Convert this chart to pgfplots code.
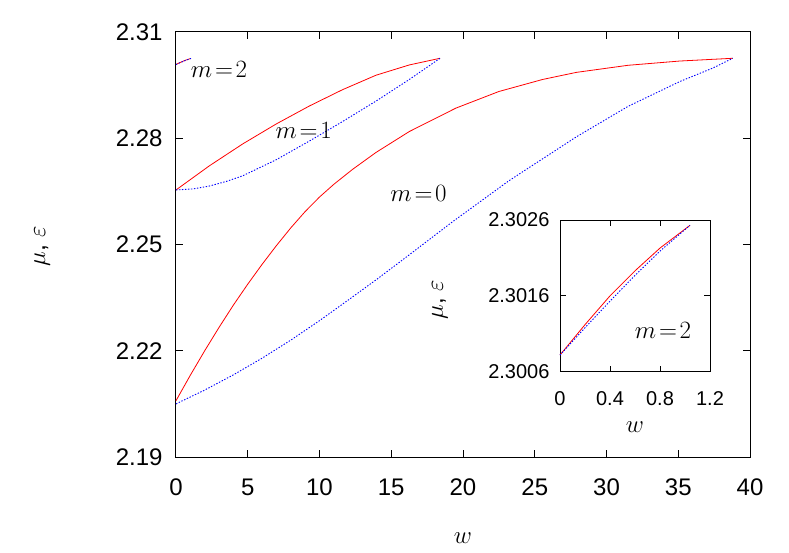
\documentclass[border=0pt]{standalone}
\usepackage[no-math]{fontspec}
\setmainfont{Liberation Sans}
\usepackage{pgfplots}
\usepackage{pgfplotstable}
\pgfplotsset{compat=1.18}

\pgfplotstableread{
w v
0 2.2059
1 2.2131
2 2.2200
3 2.2266
4 2.2329
5 2.2388
6 2.2444
7 2.2497
8 2.2547
9 2.2593
10 2.2634
11 2.2670
12.3 2.2712
13.94 2.2760
16.26 2.2819
19.5 2.2885
22.5 2.2932
25.55 2.2966
27.9 2.2986
31.5 2.3006
35.1 2.3018
38.8 2.30258
}\mzeromu
\pgfplotstableread{
w v
0 2.2050
2 2.2089
4 2.2132
6 2.2179
8 2.2230
10 2.2285
12 2.2343
14 2.2402
16 2.2463
19.3 2.2565
23.2 2.2680
27.9 2.2804
31.5 2.2890
35.1 2.2960
37.4 2.2998
38.8 2.30258
}\mzeroeps
\pgfplotstableread{
w v
0 2.2654
2.32 2.2722
4.65 2.2784
6.97 2.2840
9.29 2.2891
11.6 2.2937
13.94 2.2978
16.26 2.3007
18.4 2.30258
}\monemu
\pgfplotstableread{
w v
0 2.2654
1.2 2.2657
2.32 2.2665
3.5 2.2678
4.65 2.2694
6.97 2.2739
9.29 2.2792
11.6 2.2847
13.94 2.2905
16.26 2.2966
18.4 2.30258
}\moneeps
\pgfplotstableread{
w v
0 2.30082
0.2 2.30122
0.4 2.30160
0.6 2.30193
0.8 2.30223
1.04 2.30253
}\mtwomu
\pgfplotstableread{
w v
0 2.30082
0.2 2.30118
0.4 2.30153
0.6 2.30187
0.8 2.30219
1.04 2.30253
}\mtwoeps

\pgfplotsset{
  mu/.style={red, line width=0.8pt},
  eps/.style={blue, line width=0.9pt, dash pattern=on 1.4pt off 1.6pt},
}

\begin{document}
\begin{tikzpicture}
\path[use as bounding box] (-176pt,-95pt) rectangle (613pt,457pt);
\begin{axis}[
  at={(0pt,0pt)}, anchor=south west,
  scale only axis, width=574pt, height=425pt,
  xmin=0, xmax=40, ymin=2.19, ymax=2.31,
  xtick={0,5,...,40},
  ytick={2.19,2.22,2.25,2.28,2.31},
  yticklabels={2.19,2.22,2.25,2.28,2.31},
  tick align=inside, major tick length=7pt,
  axis line style={line width=1pt}, every tick/.style={black, line width=1pt},
  /pgf/number format/assume math mode=true,
  tick label style={font=\fontsize{24}{26}\selectfont},
  xticklabel style={yshift=-18pt},
  yticklabel style={xshift=-10pt},
  xlabel={$w$}, ylabel={$\mu$, $\varepsilon$},
  label style={font=\fontsize{25}{28}\selectfont},
  xlabel style={at={(axis description cs:0.5,-0.19)}, anchor=center},
  ylabel style={at={(axis description cs:-0.233,0.496)}, anchor=center},
  clip=false,
]
\addplot[mu] table[x=w,y=v] {\mzeromu};
\addplot[eps] table[x=w,y=v] {\mzeroeps};
\addplot[mu] table[x=w,y=v] {\monemu};
\addplot[eps] table[x=w,y=v] {\moneeps};
\addplot[mu] table[x=w,y=v] {\mtwomu};
\addplot[eps] table[x=w,y=v] {\mtwoeps};
\node[font=\fontsize{24}{28}\selectfont] at (axis cs:3.0,2.2993) {$m\!=\!2$};
\node[font=\fontsize{24}{28}\selectfont] at (axis cs:8.9,2.2823) {$m\!=\!1$};
\node[font=\fontsize{24}{28}\selectfont] at (axis cs:16.9,2.2643) {$m\!=\!0$};
\end{axis}
\begin{axis}[
  at={(384pt,85.3pt)}, anchor=south west,
  scale only axis, width=150pt, height=151.7pt,
  xmin=0, xmax=1.2, ymin=2.3006, ymax=2.3026,
  xtick={0,0.4,0.8,1.2},
  xticklabels={0,0.4,0.8,1.2},
  ytick={2.3006,2.3016,2.3026},
  yticklabels={2.3006,2.3016,2.3026},
  tick align=inside, major tick length=6pt,
  axis line style={line width=1pt}, every tick/.style={black, line width=1pt},
  axis background/.style={fill=white},
  /pgf/number format/assume math mode=true,
  tick label style={font=\fontsize{20}{22}\selectfont},
  xticklabel style={yshift=-16pt},
  yticklabel style={xshift=-7pt},
  xlabel={$w$}, ylabel={$\mu$, $\varepsilon$},
  label style={font=\fontsize{24}{27}\selectfont},
  xlabel style={at={(axis description cs:0.5,-0.365)}, anchor=center},
  ylabel style={at={(axis description cs:-0.8,0.473)}, anchor=center},
  clip=false,
]
\addplot[mu] table[x=w,y=v] {\mtwomu};
\addplot[eps] table[x=w,y=v] {\mtwoeps};
\node[font=\fontsize{24}{28}\selectfont] at (axis cs:0.824,2.30115) {$m\!=\!2$};
\end{axis}
\end{tikzpicture}
\end{document}
